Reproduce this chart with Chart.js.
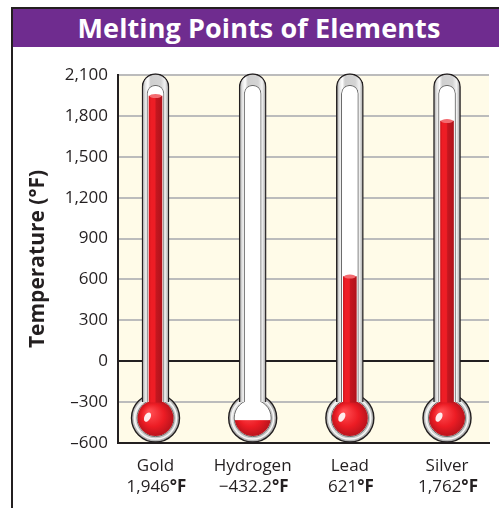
<!DOCTYPE html>
<html><head><meta charset="utf-8">
<script src="https://cdn.jsdelivr.net/npm/chart.js@4.4.1/dist/chart.umd.min.js"></script>
<style>
html,body{margin:0;padding:0;background:#fff;width:499px;height:508px;overflow:hidden}
#wrap{position:relative;width:499px;height:508px}
canvas{position:absolute;left:0;top:0}
#frameL{position:absolute;left:11px;top:7px;width:2px;height:501px;background:#231F20}
#title{position:absolute;left:11px;top:7px;width:488px;height:40px;border-top:2px solid #231F20;background:#6F2C8F;color:#fff;font:bold 27px 'Open Sans',sans-serif;text-align:center;line-height:38px;padding-left:8px;box-sizing:border-box;letter-spacing:0.1px}
</style></head>
<body>
<div id="wrap">
<canvas id="c" width="499" height="508"></canvas>
<div id="title">Melting Points of Elements</div>
<div id="frameL"></div>
</div>
<script>
// ---- data ----
const categories = ['Gold', 'Hydrogen', 'Lead', 'Silver'];
const meltingPointsF = [1946, -432.2, 621, 1762];
const yTickValues = [-600, -300, 0, 300, 600, 900, 1200, 1500, 1800, 2100];
const yAxisTitle = 'Temperature (°F)';
const unitLabel = '°F';

// thermometer geometry (in data units of the y scale)
const Y_MIN = -600, Y_MAX = 2100;
const BULB_LEVEL = -417;
const TUBE_BASE = -300;
const TUBE_TOP = 2110;
const BORE_TOP = 2025;

const INK = '#231F20';
const FONT = "'Open Sans', sans-serif";

function fmtNum(v) {
  const s = Math.abs(v).toLocaleString('en-US');
  return v < 0 ? '\u2013' + s : s;
}
function fmtVal(v) {
  const s = Math.abs(v).toLocaleString('en-US', {maximumFractionDigits: 1});
  return (v < 0 ? '\u2212' : '') + s;
}

Chart.defaults.font.family = FONT;
Chart.defaults.color = INK;

function colGrad(chart, i, w, stops) {
  const cx = chart.scales.x.getPixelForValue(i);
  const g = chart.ctx.createLinearGradient(cx - w / 2, 0, cx + w / 2, 0);
  stops.forEach(s => g.addColorStop(s[0], s[1]));
  return g;
}

const bgPlugin = {
  id: 'bg',
  beforeDraw(chart) {
    const {ctx, chartArea: a} = chart;
    ctx.save();
    ctx.fillStyle = '#FFFBE8';
    ctx.fillRect(a.left, a.top, a.right - a.left, a.bottom - a.top);
    ctx.restore();
  }
};

const bulbPlugin = {
  id: 'bulbs',
  beforeDatasetsDraw(chart) {
    const {ctx} = chart;
    const xs = chart.scales.x, ys = chart.scales.y;
    categories.forEach((c, i) => {
      const cx = xs.getPixelForValue(i);
      const cy = ys.getPixelForValue(BULB_LEVEL);
      ctx.save();
      ctx.beginPath(); ctx.arc(cx, cy, 24, 0, Math.PI * 2);
      const rg = ctx.createRadialGradient(cx - 6, cy - 6, 4, cx, cy, 24);
      rg.addColorStop(0, '#FFFFFF'); rg.addColorStop(0.7, '#E2E2E2'); rg.addColorStop(1, '#A8A8A8');
      ctx.fillStyle = rg; ctx.fill();
      ctx.lineWidth = 1.4; ctx.strokeStyle = INK; ctx.stroke();
      ctx.beginPath(); ctx.arc(cx, cy, 21, 0, Math.PI * 2);
      ctx.lineWidth = 1.5; ctx.strokeStyle = '#F7F7F7'; ctx.stroke();
      ctx.beginPath(); ctx.arc(cx, cy, 18.5, 0, Math.PI * 2);
      ctx.fillStyle = '#FFFFFF'; ctx.fill();
      ctx.lineWidth = 1; ctx.strokeStyle = '#6A6A6A'; ctx.stroke();
      const fy = Math.max(ys.getPixelForValue(meltingPointsF[i]), cy - 19);
      ctx.save();
      ctx.beginPath(); ctx.arc(cx, cy, 18, 0, Math.PI * 2); ctx.clip();
      const lg = ctx.createRadialGradient(cx - 6, cy - 6, 2, cx, cy, 19);
      lg.addColorStop(0, '#FF4A4F'); lg.addColorStop(0.55, '#EC1C24'); lg.addColorStop(1, '#B5121B');
      ctx.fillStyle = lg;
      ctx.fillRect(cx - 20, fy, 40, cy + 20 - fy);
      ctx.restore();
      if (fy < cy - 10) {
        ctx.beginPath();
        ctx.ellipse(cx - 8, cy - 1, 3, 5, 0.5, 0, Math.PI * 2);
        ctx.fillStyle = 'rgba(255,255,255,0.9)'; ctx.fill();
      }
      ctx.restore();
    });
  },
  afterDatasetsDraw(chart) {
    const {ctx} = chart;
    const xs = chart.scales.x, ys = chart.scales.y;
    categories.forEach((c, i) => {
      const v = meltingPointsF[i];
      if (v <= TUBE_BASE) return;
      const cx = xs.getPixelForValue(i);
      const ty = ys.getPixelForValue(v);
      ctx.save();
      ctx.beginPath(); ctx.ellipse(cx, ty, 6, 2, 0, 0, Math.PI * 2);
      ctx.fillStyle = '#F36B70'; ctx.fill();
      ctx.restore();
    });
  }
};

// second line of each category label: value (regular) + unit (bold)
const valueLabelPlugin = {
  id: 'valueLabels',
  afterDraw(chart) {
    const {ctx} = chart;
    const xs = chart.scales.x;
    const y = chart.chartArea.bottom + 44;
    ctx.save();
    ctx.fillStyle = INK;
    ctx.textBaseline = 'middle';
    ctx.textAlign = 'left';
    categories.forEach((c, i) => {
      const num = fmtVal(meltingPointsF[i]);
      ctx.font = '17px ' + FONT;
      const w1 = ctx.measureText(num).width;
      ctx.font = 'bold 17px ' + FONT;
      const w2 = ctx.measureText(unitLabel).width;
      const x0 = xs.getPixelForValue(i) + 1 - (w1 + w2) / 2;
      ctx.font = '17px ' + FONT;
      ctx.fillText(num, x0, y);
      ctx.font = 'bold 17px ' + FONT;
      ctx.fillText(unitLabel, x0 + w1, y);
    });
    ctx.restore();
  }
};

const redData = categories.map((c, i) => ({x: i, y: meltingPointsF[i] > TUBE_BASE ? [TUBE_BASE, meltingPointsF[i]] : null}));
const boreData = categories.map((c, i) => ({x: i, y: [TUBE_BASE, BORE_TOP]}));
const tubeData = categories.map((c, i) => ({x: i, y: [TUBE_BASE, TUBE_TOP]}));

new Chart(document.getElementById('c'), {
  type: 'bar',
  data: {
    datasets: [
      {
        label: 'Melting point', data: redData, order: 1, grouped: false, clip: false,
        barThickness: 13, borderWidth: 0, borderSkipped: 'start',
        backgroundColor: ctx => ctx.dataIndex === undefined || !ctx.chart.chartArea ? '#EC1C24' :
          colGrad(ctx.chart, ctx.dataIndex, 13, [[0, '#D3141C'], [0.15, '#EE1D25'], [0.45, '#EE1D25'], [0.55, '#C5161F'], [1, '#B0131B']])
      },
      {
        label: 'Bore', data: boreData, order: 2, grouped: false, clip: false,
        barThickness: 17, borderWidth: 1, borderColor: '#6A6A6A', borderSkipped: 'start', borderRadius: 8.5,
        backgroundColor: '#FFFFFF'
      },
      {
        label: 'Tube', data: tubeData, order: 3, grouped: false, clip: false,
        barThickness: 27, borderWidth: 1.4, borderColor: INK, borderSkipped: 'start', borderRadius: 13.5,
        backgroundColor: ctx => ctx.dataIndex === undefined || !ctx.chart.chartArea ? '#D0D0D0' :
          colGrad(ctx.chart, ctx.dataIndex, 27, [[0, '#9C9C9C'], [0.12, '#E4E4E4'], [0.22, '#FFFFFF'], [0.32, '#CFCFCF'], [0.7, '#D4D4D4'], [0.85, '#F2F2F2'], [1, '#9A9A9A']])
      }
    ]
  },
  options: {
    responsive: false,
    animation: false,
    events: [],
    devicePixelRatio: 1,
    layout: {padding: {left: 12, right: 10, top: 75, bottom: 0}},
    plugins: {legend: {display: false}, tooltip: {enabled: false}},
    scales: {
      x: {
        type: 'linear', offset: false,
        min: -0.386, max: 3.432,
        afterBuildTicks: s => { s.ticks = categories.map((c, i) => ({value: i})); },
        afterFit: s => { s.height = 65; },
        grid: {display: false, drawTicks: false},
        border: {display: true, color: INK, width: 2},
        ticks: {
          padding: 13, maxRotation: 0, autoSkip: false,
          font: {size: 17, lineHeight: 1.2}, color: INK,
          callback: v => categories[v]
        }
      },
      y: {
        min: Y_MIN, max: Y_MAX,
        afterBuildTicks: s => { s.ticks = yTickValues.map(v => ({value: v})); },
        afterFit: s => { s.width = 106; },
        grid: {
          drawTicks: false,
          color: c => c.tick && c.tick.value === 0 ? INK : '#BCBCBC',
          lineWidth: 2
        },
        border: {display: true, color: INK, width: 2},
        ticks: {padding: 10, font: {size: 17}, color: INK, callback: v => fmtNum(v)},
        title: {display: true, text: yAxisTitle, font: {size: 21, weight: 'bold'}, color: INK, padding: {top: 13, bottom: 0}}
      }
    }
  },
  plugins: [bgPlugin, bulbPlugin, valueLabelPlugin]
});
</script>
</body></html>
